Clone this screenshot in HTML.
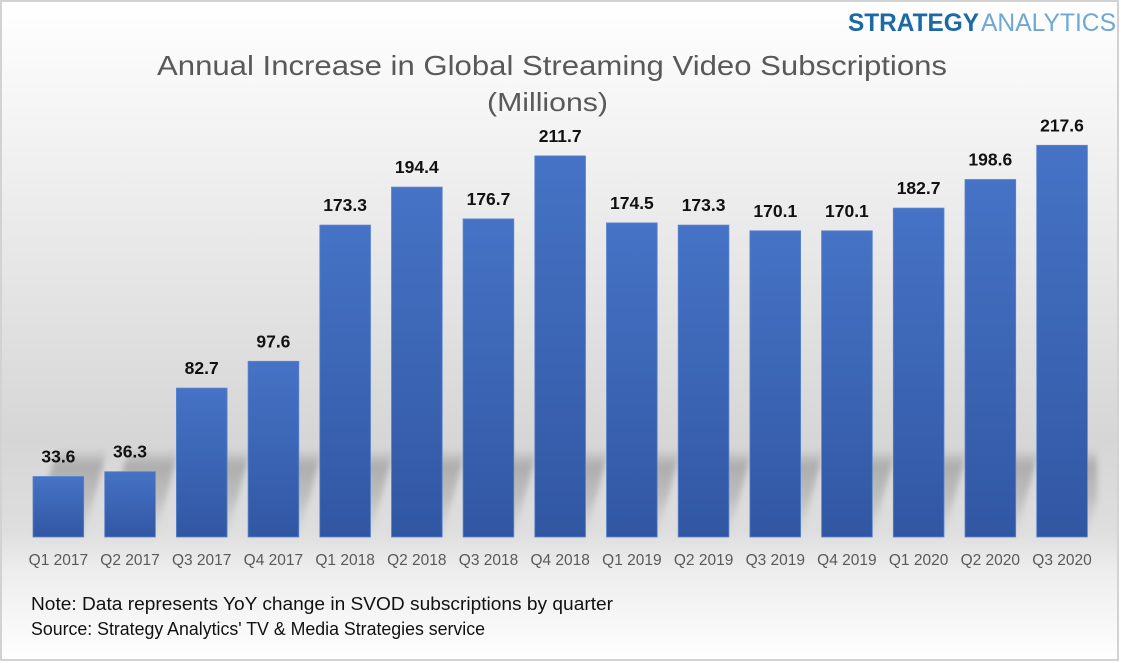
<!DOCTYPE html>
<html><head><meta charset="utf-8"><style>
html,body{margin:0;padding:0;background:#fff;}
svg{display:block;}
text{font-family:"Liberation Sans",sans-serif;}
</style></head><body>
<svg width="1121" height="663" viewBox="0 0 1121 663" xmlns="http://www.w3.org/2000/svg">
<defs>
<linearGradient id="bg" gradientUnits="userSpaceOnUse" x1="0" y1="0" x2="0" y2="663">
<stop offset="0" stop-color="#ffffff"/>
<stop offset="0.15" stop-color="#f6f6f6"/>
<stop offset="0.66" stop-color="#d6d6d6"/>
<stop offset="0.80" stop-color="#dedede"/>
<stop offset="0.86" stop-color="#ededed"/>
<stop offset="1" stop-color="#ffffff"/>
</linearGradient>
<linearGradient id="bar" x1="0" y1="0" x2="0" y2="1">
<stop offset="0" stop-color="#4673c6"/>
<stop offset="1" stop-color="#3157a3"/>
</linearGradient>
<linearGradient id="sh" gradientUnits="userSpaceOnUse" x1="0" y1="448" x2="0" y2="537">
<stop offset="0" stop-color="#8a8a8a" stop-opacity="0"/>
<stop offset="0.2" stop-color="#8a8a8a" stop-opacity="0.55"/>
<stop offset="0.55" stop-color="#9a9a9a" stop-opacity="0.45"/>
<stop offset="1" stop-color="#c4c4c4" stop-opacity="0.15"/>
</linearGradient>
<filter id="blur" x="-20%" y="-20%" width="140%" height="140%"><feGaussianBlur stdDeviation="3"/></filter>
</defs>
<rect x="0" y="0" width="1121" height="663" fill="#ffffff"/>
<rect x="1" y="1" width="1117" height="659" fill="url(#bg)" stroke="#d2d2d2" stroke-width="2"/>

<!-- logo -->
<text x="848" y="31" font-size="25" font-weight="bold" fill="#1b6aa5" textLength="131" lengthAdjust="spacingAndGlyphs">STRATEGY</text>
<text x="981" y="31" font-size="25" fill="#6fa8d4" textLength="135" lengthAdjust="spacingAndGlyphs">ANALYTICS</text>

<!-- title -->
<text x="157" y="75" font-size="28" fill="#595959" textLength="790" lengthAdjust="spacingAndGlyphs">Annual Increase in Global Streaming Video Subscriptions</text>
<text x="487" y="111" font-size="26" fill="#595959" textLength="121" lengthAdjust="spacingAndGlyphs">(Millions)</text>

<!-- shadows -->
<g fill="url(#sh)" filter="url(#blur)">
<polygon points="33,537 83.7,537 107.7,448 57,448"/>
<polygon points="104.7,537 155.4,537 179.4,448 128.7,448"/>
<polygon points="176.4,537 227.1,537 251.1,448 200.4,448"/>
<polygon points="248.1,537 298.8,537 322.8,448 272.1,448"/>
<polygon points="319.8,537 370.5,537 394.5,448 343.8,448"/>
<polygon points="391.5,537 442.2,537 466.2,448 415.5,448"/>
<polygon points="463.1,537 513.8,537 537.8,448 487.1,448"/>
<polygon points="534.8,537 585.5,537 609.5,448 558.8,448"/>
<polygon points="606.5,537 657.2,537 681.2,448 630.5,448"/>
<polygon points="678.2,537 728.9,537 752.9,448 702.2,448"/>
<polygon points="749.9,537 800.6,537 824.6,448 773.9,448"/>
<polygon points="821.6,537 872.3,537 896.3,448 845.6,448"/>
<polygon points="893.3,537 944,537 968,448 917.3,448"/>
<polygon points="965,537 1015.7,537 1039.7,448 989,448"/>
<polygon points="1036.7,537 1087.4,537 1097,500 1097,448 1060.7,448"/>
</g>

<!-- bars -->
<g fill="url(#bar)" stroke="#5a84cf" stroke-width="0.8">
<rect x="33" y="476.5" width="50.7" height="60.5"/>
<rect x="104.7" y="471.7" width="50.7" height="65.3"/>
<rect x="176.4" y="388.1" width="50.7" height="148.9"/>
<rect x="248.1" y="361.3" width="50.7" height="175.7"/>
<rect x="319.8" y="225.1" width="50.7" height="311.9"/>
<rect x="391.5" y="187.1" width="50.7" height="349.9"/>
<rect x="463.1" y="218.9" width="50.7" height="318.1"/>
<rect x="534.8" y="155.9" width="50.7" height="381.1"/>
<rect x="606.5" y="222.9" width="50.7" height="314.1"/>
<rect x="678.2" y="225.1" width="50.7" height="311.9"/>
<rect x="749.9" y="230.8" width="50.7" height="306.2"/>
<rect x="821.6" y="230.8" width="50.7" height="306.2"/>
<rect x="893.3" y="208.1" width="50.7" height="328.9"/>
<rect x="965" y="179.5" width="50.7" height="357.5"/>
<rect x="1036.7" y="145.3" width="50.7" height="391.7"/>
</g>

<!-- value labels -->
<g font-size="17.5" font-weight="bold" fill="#111" text-anchor="middle">
<text x="58.4" y="462.5">33.6</text>
<text x="130" y="457.7">36.3</text>
<text x="201.7" y="374.1">82.7</text>
<text x="273.4" y="347.3">97.6</text>
<text x="345.1" y="211.1">173.3</text>
<text x="416.8" y="173.1">194.4</text>
<text x="488.5" y="204.9">176.7</text>
<text x="560.2" y="141.9">211.7</text>
<text x="631.9" y="208.9">174.5</text>
<text x="703.6" y="211.1">173.3</text>
<text x="775.3" y="216.8">170.1</text>
<text x="846.9" y="216.8">170.1</text>
<text x="918.6" y="194.1">182.7</text>
<text x="990.3" y="165.5">198.6</text>
<text x="1062" y="131.3">217.6</text>
</g>

<!-- category labels -->
<g font-size="15.5" fill="#595959" text-anchor="middle">
<text x="58.4" y="565">Q1 2017</text>
<text x="130" y="565">Q2 2017</text>
<text x="201.7" y="565">Q3 2017</text>
<text x="273.4" y="565">Q4 2017</text>
<text x="345.1" y="565">Q1 2018</text>
<text x="416.8" y="565">Q2 2018</text>
<text x="488.5" y="565">Q3 2018</text>
<text x="560.2" y="565">Q4 2018</text>
<text x="631.9" y="565">Q1 2019</text>
<text x="703.6" y="565">Q2 2019</text>
<text x="775.3" y="565">Q3 2019</text>
<text x="846.9" y="565">Q4 2019</text>
<text x="918.6" y="565">Q1 2020</text>
<text x="990.3" y="565">Q2 2020</text>
<text x="1062" y="565">Q3 2020</text>
</g>

<!-- footer -->
<text x="31" y="610" font-size="18.5" fill="#111" textLength="582" lengthAdjust="spacingAndGlyphs">Note: Data represents YoY change in SVOD subscriptions by quarter</text>
<text x="31" y="635" font-size="18.5" fill="#111" textLength="454" lengthAdjust="spacingAndGlyphs">Source: Strategy Analytics' TV &amp; Media Strategies service</text>
</svg>
</body></html>
